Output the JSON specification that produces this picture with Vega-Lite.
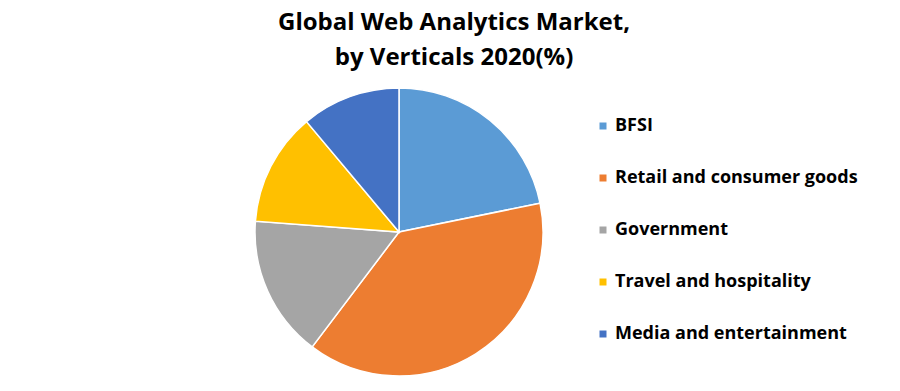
{
  "$schema": "https://vega.github.io/schema/vega-lite/v6.json",
  "autosize": "none",
  "width": 288,
  "height": 288,
  "padding": {"left": 255, "top": 88, "right": 357, "bottom": 15},
  "background": "white",
  "config": {"view": {"stroke": null}, "font": "Open Sans"},
  "title": {
    "text": ["Global Web Analytics Market,", "by Verticals 2020(%)"],
    "fontSize": 24,
    "fontWeight": "bold",
    "font": "Open Sans",
    "color": "black",
    "lineHeight": 35,
    "anchor": "middle",
    "dx": 55,
    "offset": 15
  },
  "data": {
    "values": [
      {"sector": "BFSI", "share": 21.8, "order": 1},
      {"sector": "\u2002Retail and consumer goods", "share": 38.5, "order": 2},
      {"sector": "Government", "share": 15.9, "order": 3},
      {"sector": "Travel and hospitality", "share": 12.7, "order": 4},
      {"sector": "Media and entertainment", "share": 11.1, "order": 5}
    ]
  },
  "mark": {"type": "arc", "stroke": "white", "strokeWidth": 1.5},
  "encoding": {
    "theta": {"field": "share", "type": "quantitative", "stack": true},
    "order": {"field": "order", "type": "quantitative"},
    "color": {
      "field": "sector",
      "type": "nominal",
      "sort": ["BFSI", "\u2002Retail and consumer goods", "Government", "Travel and hospitality", "Media and entertainment"],
      "scale": {
        "domain": ["BFSI", "\u2002Retail and consumer goods", "Government", "Travel and hospitality", "Media and entertainment"],
        "range": ["#5B9BD5", "#ED7D31", "#A5A5A5", "#FFC000", "#4472C4"]
      },
      "legend": {
        "title": null,
        "orient": "none",
        "legendX": 339,
        "legendY": 29,
        "symbolType": "square",
        "symbolSize": 49,
        "symbolStrokeWidth": 0,
        "labelFontSize": 18,
        "labelFontWeight": "bold",
        "labelFont": "Open Sans",
        "labelColor": "black",
        "labelOffset": 3,
        "labelLimit": 400,
        "rowPadding": 34
      }
    }
  }
}
